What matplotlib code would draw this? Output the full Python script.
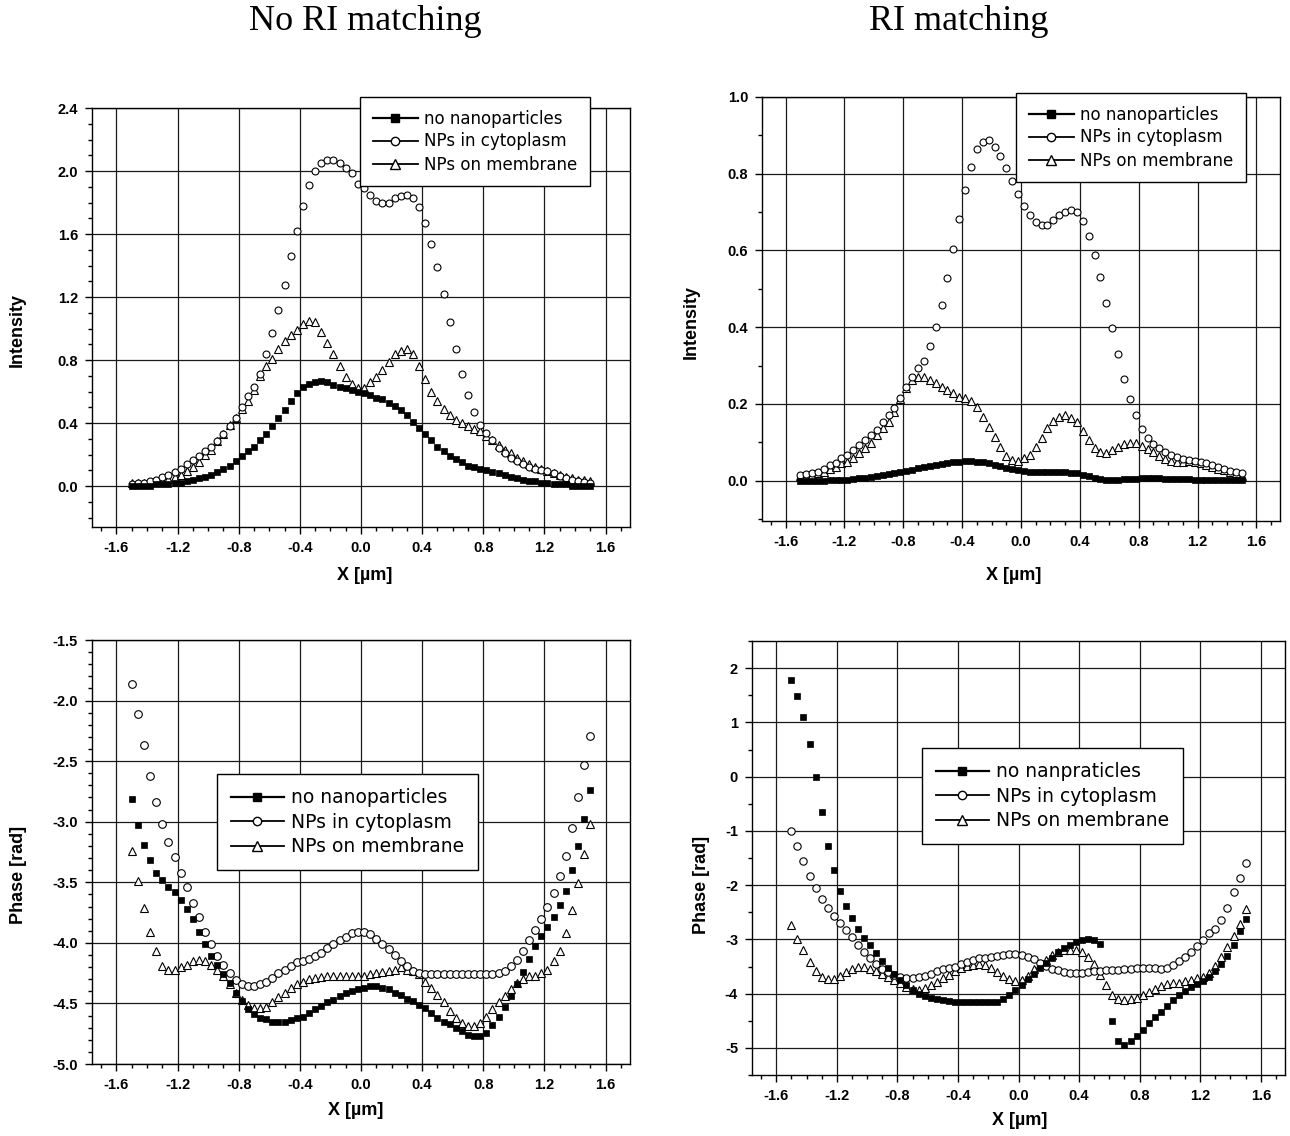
import numpy as np
import matplotlib
matplotlib.use("Agg")
import matplotlib.pyplot as plt
from matplotlib.ticker import MultipleLocator, FormatStrFormatter
from matplotlib.lines import Line2D

plt.rcParams['font.family'] = ['Liberation Sans', 'DejaVu Sans']
plt.rcParams['font.weight'] = 'bold'
plt.rcParams['axes.unicode_minus'] = False

# x positions of the samples (um), step 0.04
x = np.round(np.arange(76) * 0.04 - 1.5, 2)
nan = np.nan

# intensity, no RI matching
int_none = [0.00, 0.00, 0.00, 0.00, 0.01, 0.01, 0.01, 0.02, 0.02, 0.03,
            0.04, 0.05, 0.06, 0.07, 0.09, 0.11, 0.13, 0.16, 0.19, 0.22,
            0.25, 0.29, 0.33, 0.38, 0.43, 0.48, 0.54, 0.59, 0.63, 0.65,
            0.66, 0.67, 0.66, 0.64, 0.63, 0.62, 0.61, 0.60, 0.59, 0.58,
            0.56, 0.55, 0.53, 0.51, 0.48, 0.45, 0.41, 0.37, 0.33, 0.29,
            0.25, 0.22, 0.19, 0.17, 0.15, 0.13, 0.12, 0.11, 0.10, 0.09,
            0.08, 0.07, 0.06, 0.05, 0.04, 0.03, 0.03, 0.02, 0.02, 0.01,
            0.01, 0.01, 0.00, 0.00, 0.00, 0.00]
int_cyto = [0.015, 0.02, 0.02, 0.03, 0.04, 0.055, 0.07, 0.09, 0.11, 0.14,
            0.165, 0.19, 0.22, 0.25, 0.285, 0.33, 0.38, 0.43, 0.50, 0.57,
            0.63, 0.71, 0.84, 0.97, 1.12, 1.28, 1.46, 1.62, 1.78, 1.91,
            2.00, 2.05, 2.07, 2.07, 2.05, 2.02, 1.99, 1.92, 1.89, 1.85,
            1.81, 1.80, 1.80, 1.83, 1.84, 1.85, 1.83, 1.77, 1.67, 1.54,
            1.39, 1.22, 1.04, 0.87, 0.71, 0.58, 0.47, 0.39, 0.34, 0.29,
            0.24, 0.21, 0.18, 0.16, 0.14, 0.12, 0.11, 0.10, 0.095, 0.08,
            0.063, 0.053, 0.04, 0.03, 0.025, 0.02]
int_memb = [0.02, 0.02, 0.02, 0.025, 0.03, 0.035, 0.045, 0.06, 0.07, 0.095,
            0.12, 0.15, 0.195, 0.23, 0.285, 0.33, 0.39, 0.43, 0.49, 0.54,
            0.61, 0.70, 0.76, 0.81, 0.87, 0.92, 0.96, 0.99, 1.03, 1.05,
            1.04, 0.98, 0.91, 0.84, 0.76, 0.69, 0.65, 0.62, 0.62, 0.66,
            0.69, 0.74, 0.79, 0.84, 0.86, 0.87, 0.84, 0.76, 0.68, 0.60,
            0.54, 0.49, 0.45, 0.42, 0.40, 0.38, 0.36, 0.35, 0.32, 0.29,
            0.26, 0.23, 0.21, 0.18, 0.16, 0.14, 0.12, 0.11, 0.095, 0.08,
            0.07, 0.06, 0.05, 0.04, 0.04, 0.03]

# intensity, RI matching
intm_none = [0.0, 0.0, 0.0, 0.0, 0.0, 0.001, 0.001, 0.002, 0.003, 0.004,
             0.006, 0.008, 0.010, 0.012, 0.015, 0.017, 0.020, 0.023, 0.026, 0.029,
             0.032, 0.035, 0.038, 0.041, 0.044, 0.046, 0.048, 0.050, 0.051, 0.051,
             0.050, 0.048, 0.045, 0.042, 0.038, 0.034, 0.030, 0.027, 0.025, 0.024,
             0.023, 0.023, 0.023, 0.023, 0.023, 0.022, 0.021, 0.020, 0.016, 0.012,
             0.007, 0.004, 0.003, 0.003, 0.003, 0.004, 0.005, 0.005, 0.006, 0.006,
             0.006, 0.006, 0.005, 0.005, 0.005, 0.004, 0.004, 0.003, 0.003, 0.003,
             0.003, 0.003, 0.003, 0.003, 0.003, 0.003]
intm_cyto = [0.016, 0.017, 0.02, 0.024, 0.03, 0.04, 0.046, 0.058, 0.068, 0.081,
             0.092, 0.107, 0.12, 0.133, 0.154, 0.17, 0.189, 0.215, 0.243, 0.269,
             0.293, 0.312, 0.351, 0.40, 0.458, 0.527, 0.604, 0.683, 0.757, 0.818,
             0.864, 0.883, 0.887, 0.87, 0.846, 0.815, 0.78, 0.748, 0.716, 0.692,
             0.675, 0.666, 0.666, 0.679, 0.692, 0.701, 0.705, 0.701, 0.677, 0.638,
             0.588, 0.53, 0.464, 0.397, 0.33, 0.265, 0.213, 0.17, 0.135, 0.111,
             0.095, 0.085, 0.076, 0.068, 0.061, 0.057, 0.055, 0.052, 0.05, 0.046,
             0.04, 0.035, 0.031, 0.026, 0.023, 0.019]
intm_memb = [0.011, 0.014, 0.016, 0.019, 0.024, 0.031, 0.037, 0.045, 0.05, 0.059,
             0.072, 0.085, 0.098, 0.12, 0.137, 0.154, 0.18, 0.213, 0.241, 0.263,
             0.271, 0.271, 0.263, 0.254, 0.245, 0.237, 0.228, 0.219, 0.215, 0.209,
             0.193, 0.167, 0.141, 0.113, 0.087, 0.065, 0.055, 0.052, 0.059, 0.068,
             0.089, 0.111, 0.137, 0.156, 0.167, 0.172, 0.163, 0.154, 0.13, 0.107,
             0.085, 0.076, 0.072, 0.081, 0.088, 0.095, 0.098, 0.097, 0.091, 0.082,
             0.074, 0.065, 0.056, 0.052, 0.05, 0.05, 0.051, 0.05, 0.045, 0.04,
             0.036, 0.031, 0.028, 0.024, 0.02, 0.011]

# phase, no RI matching
ph_none = [-2.81, -3.03, -3.19, -3.32, -3.42, -3.48, -3.54, -3.58, -3.65, -3.72,
           -3.80, -3.91, -4.01, -4.11, -4.18, -4.26, -4.33, -4.41, -4.48, -4.55,
           -4.59, -4.62, -4.63, -4.65, -4.65, -4.65, -4.64, -4.62, -4.61, -4.58,
           -4.55, -4.52, -4.49, -4.47, -4.44, -4.41, -4.40, -4.38, -4.37, -4.36,
           -4.36, -4.37, -4.38, -4.41, -4.43, -4.46, -4.48, -4.51, -4.54, -4.58,
           -4.62, -4.65, -4.67, -4.70, -4.73, -4.76, -4.77, -4.77, -4.74, -4.68,
           -4.61, -4.53, -4.44, -4.34, -4.24, -4.13, -4.03, -3.94, -3.87, -3.79,
           -3.69, -3.57, -3.40, -3.20, -2.98, -2.74]
ph_cyto = [-1.86, -2.11, -2.37, -2.62, -2.84, -3.02, -3.17, -3.29, -3.42, -3.54,
           -3.67, -3.79, -3.91, -4.01, -4.11, -4.18, -4.25, -4.31, -4.34, -4.36,
           -4.36, -4.34, -4.32, -4.29, -4.25, -4.22, -4.19, -4.16, -4.15, -4.13,
           -4.11, -4.08, -4.04, -4.01, -3.98, -3.95, -3.92, -3.91, -3.91, -3.93,
           -3.97, -4.01, -4.05, -4.10, -4.15, -4.19, -4.23, -4.25, -4.26, -4.26,
           -4.26, -4.26, -4.26, -4.26, -4.26, -4.26, -4.26, -4.26, -4.26, -4.26,
           -4.25, -4.23, -4.19, -4.14, -4.07, -3.98, -3.89, -3.80, -3.70, -3.59,
           -3.45, -3.28, -3.05, -2.80, -2.53, -2.29]
ph_memb = [-3.24, -3.49, -3.71, -3.91, -4.07, -4.19, -4.22, -4.22, -4.20, -4.18,
           -4.15, -4.14, -4.15, -4.18, -4.22, -4.27, -4.34, -4.41, -4.47, -4.51,
           -4.54, -4.54, -4.53, -4.49, -4.45, -4.41, -4.37, -4.34, -4.32, -4.30,
           -4.29, -4.28, -4.27, -4.27, -4.27, -4.27, -4.27, -4.27, -4.27, -4.26,
           -4.25, -4.24, -4.23, -4.22, -4.20, -4.22, -4.23, -4.26, -4.32, -4.37,
           -4.43, -4.49, -4.56, -4.62, -4.66, -4.69, -4.69, -4.66, -4.61, -4.55,
           -4.49, -4.44, -4.38, -4.33, -4.30, -4.27, -4.27, -4.25, -4.22, -4.15,
           -4.07, -3.92, -3.73, -3.51, -3.27, -3.02]

# phase, RI matching
phm_none = [1.79, 1.48, 1.09, 0.61, -0.01, -0.65, -1.27, -1.73, -2.11, -2.38,
            -2.60, -2.80, -2.97, -3.11, -3.26, -3.40, -3.53, -3.63, -3.75, -3.84,
            -3.94, -4.00, -4.04, -4.08, -4.10, -4.12, -4.14, -4.15, -4.16, -4.16,
            -4.16, -4.16, -4.16, -4.16, -4.15, -4.09, -4.02, -3.94, -3.84, -3.73,
            -3.63, -3.53, -3.43, -3.34, -3.24, -3.16, -3.10, -3.05, -3.02, -3.00,
            -3.02, -3.08, nan, -4.51, -4.87, -4.94, -4.87, -4.78, -4.67, -4.55,
            -4.44, -4.33, -4.22, -4.12, -4.03, -3.95, -3.88, -3.82, -3.76, -3.70,
            -3.58, -3.45, -3.30, -3.10, -2.85, -2.62]
phm_cyto = [-1.00, -1.28, -1.55, -1.83, -2.06, -2.25, -2.42, -2.56, -2.69, -2.83,
            -2.95, -3.10, -3.23, -3.35, -3.45, -3.54, -3.60, -3.66, -3.69, -3.71,
            -3.71, -3.69, -3.67, -3.63, -3.59, -3.55, -3.53, -3.50, -3.46, -3.41,
            -3.38, -3.35, -3.34, -3.32, -3.30, -3.29, -3.27, -3.27, -3.29, -3.32,
            -3.37, -3.43, -3.49, -3.54, -3.57, -3.60, -3.62, -3.62, -3.62, -3.61,
            -3.59, -3.58, -3.57, -3.57, -3.56, -3.55, -3.54, -3.53, -3.52, -3.52,
            -3.53, -3.54, -3.53, -3.48, -3.40, -3.32, -3.23, -3.12, -3.02, -2.89,
            -2.80, -2.65, -2.42, -2.13, -1.87, -1.59]
phm_memb = [-2.74, -2.99, -3.20, -3.41, -3.59, -3.69, -3.73, -3.73, -3.67, -3.60,
            -3.54, -3.51, -3.51, -3.54, -3.59, -3.63, -3.69, -3.75, -3.81, -3.88,
            -3.91, -3.94, -3.89, -3.84, -3.78, -3.72, -3.66, -3.58, -3.53, -3.49,
            -3.48, -3.46, -3.48, -3.53, -3.60, -3.67, -3.73, -3.77, -3.75, -3.67,
            -3.55, -3.45, -3.38, -3.29, -3.23, -3.20, -3.19, -3.20, -3.23, -3.32,
            -3.45, -3.65, -3.84, -4.03, -4.10, -4.12, -4.10, -4.08, -4.03, -3.97,
            -3.91, -3.86, -3.83, -3.81, -3.80, -3.77, -3.75, -3.72, -3.69, -3.62,
            -3.49, -3.32, -3.14, -2.94, -2.71, -2.44]

labels_a = ["no nanoparticles", "NPs in cytoplasm", "NPs on membrane"]
labels_b = ["no nanpraticles", "NPs in cytoplasm", "NPs on membrane"]

W, H = 1290, 1136
fig = plt.figure(figsize=(W / 100, H / 100), dpi=100)


def px_axes(l, t, r, b):
    return fig.add_axes([l / W, 1 - b / H, (r - l) / W, (b - t) / H])


def draw(ax, none, cyto, memb, ms):
    ax.plot(x, memb, ls='none', marker='^', ms=ms + 1.0, mfc='white', mec='k', mew=0.8, zorder=3)
    ax.plot(x, cyto, ls='none', marker='o', ms=ms + 0.5, mfc='white', mec='k', mew=0.8, zorder=4)
    ax.plot(x, none, ls='none', marker='s', ms=ms, mfc='k', mec='k', mew=0.5, zorder=5)


def setup(ax, ylim, ymaj, ymin, yfmt, ylabel, ylab_pos, xlab_pos):
    ax.set_xlim(-1.76, 1.76)
    ax.set_ylim(*ylim)
    ax.xaxis.set_major_locator(MultipleLocator(0.4))
    ax.xaxis.set_minor_locator(MultipleLocator(0.1))
    ax.yaxis.set_major_locator(MultipleLocator(ymaj))
    ax.yaxis.set_minor_locator(MultipleLocator(ymin))
    ax.xaxis.set_major_formatter(FormatStrFormatter('%.1f'))
    ax.yaxis.set_major_formatter(FormatStrFormatter(yfmt))
    ax.grid(True, which='major', color='0.1', lw=0.9)
    ax.set_axisbelow(True)
    ax.tick_params(which='both', direction='out', top=False, right=False,
                   labelsize=10.5, width=1)
    ax.tick_params(which='major', length=5, pad=5)
    ax.tick_params(which='minor', length=3)
    for s in ax.spines.values():
        s.set_linewidth(1)
    ax.set_xlabel('X [µm]', fontsize=13, fontweight='bold')
    ax.set_ylabel(ylabel, fontsize=13, fontweight='bold')
    ax.yaxis.set_label_coords(*ylab_pos)
    ax.xaxis.set_label_coords(*xlab_pos)


def legend(ax, labels, anchor, size, hl):
    hs = [Line2D([], [], color='k', lw=1.6, marker='s', ms=5.5, mfc='k'),
          Line2D([], [], color='k', lw=1.3, marker='o', ms=6, mfc='white'),
          Line2D([], [], color='k', lw=1.3, marker='^', ms=7, mfc='white')]
    lg = ax.legend(hs, labels, loc='upper left', bbox_to_anchor=anchor,
                   bbox_transform=fig.transFigure, fancybox=False, framealpha=1,
                   edgecolor='k', prop={'family': 'DejaVu Sans', 'weight': 'normal', 'size': size},
                   handlelength=hl, handletextpad=0.4, labelspacing=0.3, borderpad=0.75,
                   borderaxespad=0)
    lg.get_frame().set_linewidth(1)
    lg.set_zorder(10)


ax1 = px_axes(92, 108, 630, 527)
draw(ax1, int_none, int_cyto, int_memb, 4.5)
setup(ax1, (-0.26, 2.401), 0.4, 0.1, '%.1f', 'Intensity', (-0.124, 0.47), (0.507, -0.095))
legend(ax1, labels_a, (360 / W, 1 - 97 / H), 12, 2.7)

ax2 = px_axes(762, 97, 1280, 521)
draw(ax2, intm_none, intm_cyto, intm_memb, 4.5)
setup(ax2, (-0.105, 1.0), 0.2, 0.1, '%.1f', 'Intensity', (-0.12, 0.47), (0.485, -0.108))
legend(ax2, labels_a, (1016 / W, 1 - 93 / H), 12, 2.7)

ax3 = px_axes(92, 640, 630, 1064)
draw(ax3, ph_none, ph_cyto, ph_memb, 5.0)
setup(ax3, (-5.0, -1.5), 0.5, 0.1, '%.1f', 'Phase [rad]', (-0.12, 0.446), (0.49, -0.09))
legend(ax3, labels_a, (217 / W, 1 - 774 / H), 13.5, 2.8)

ax4 = px_axes(752, 641, 1285, 1075)
draw(ax4, phm_none, phm_cyto, phm_memb, 4.8)
setup(ax4, (-5.5, 2.5), 1, 0.5, '%d', 'Phase [rad]', (-0.079, 0.438), (0.503, -0.085))
legend(ax4, labels_b, (922 / W, 1 - 748 / H), 13.5, 2.8)

fig.text(365 / W, 1 - 22 / H, 'No RI matching', family='Liberation Serif',
         weight='normal', fontsize=26, ha='center', va='center')
fig.text(959 / W, 1 - 22 / H, 'RI matching', family='Liberation Serif',
         weight='normal', fontsize=26, ha='center', va='center')

fig.savefig('out.png', dpi=100)
